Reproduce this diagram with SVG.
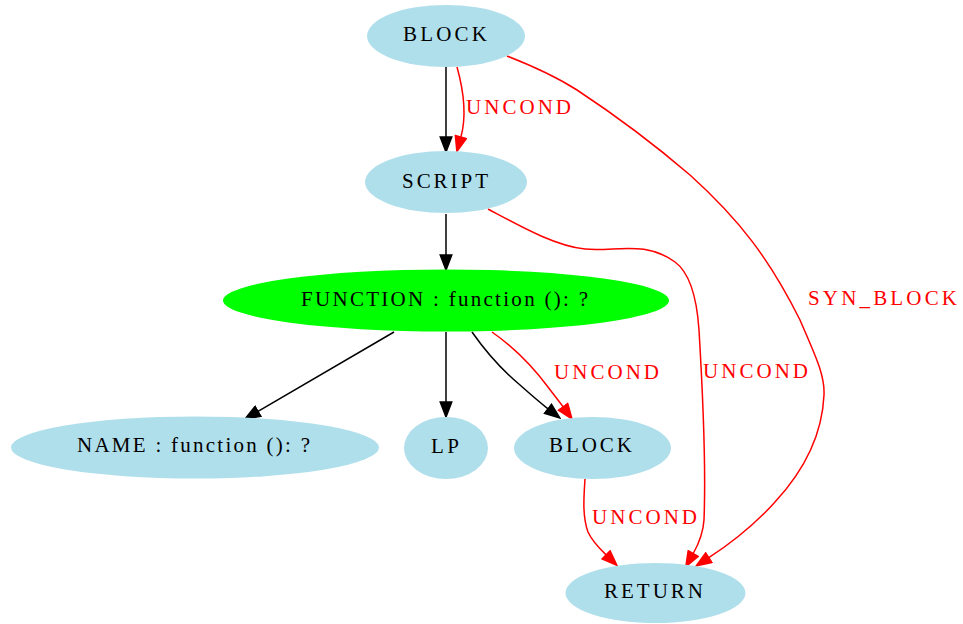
<svg xmlns="http://www.w3.org/2000/svg" width="963" height="624" viewBox="0 0 963 624">
<style>
.n{fill:#b0dfec;stroke:none}
.g{fill:#00ff00;stroke:none}
.t{font-family:"Liberation Serif","Times New Roman",serif;font-size:21px;fill:#000}
.l{font-family:"Liberation Serif","Times New Roman",serif;font-size:21px;fill:#ff0000}
.e{fill:none;stroke:#000;stroke-width:1.5}
.r{fill:none;stroke:#ff0000;stroke-width:1.5}
</style>
<defs>
<marker id="ab" viewBox="-1 -1 17 13.5" markerWidth="17" markerHeight="13.5" refX="0" refY="5.75" orient="auto" markerUnits="userSpaceOnUse"><path d="M0,0 L15,5.75 L0,11.5 z" fill="#000" stroke="#000" stroke-width="1.5"/></marker>
<marker id="ar" viewBox="-1 -1 17 13.5" markerWidth="17" markerHeight="13.5" refX="0" refY="5.75" orient="auto" markerUnits="userSpaceOnUse"><path d="M0,0 L15,5.75 L0,11.5 z" fill="#ff0000" stroke="#ff0000" stroke-width="1.5"/></marker>
</defs>
<rect width="963" height="624" fill="#fff"/>
<g id="edges">
<path class="e" d="M446,67 L446,137" marker-end="url(#ab)"/>
<path class="r" d="M457,67 C464,92 467,115 460.9,137" marker-end="url(#ar)"/>
<text class="l" x="466" y="114" textLength="105" lengthAdjust="spacing">UNCOND</text>
<path class="r" d="M507,56 C530,65 555,76 577,90 C615,115 655,145 690,175 C740,220 770,260 800,320 C815,355 825,375 824,395 C822,440 800,475 775,502 C757,522 733,542 708.8,557.7" marker-end="url(#ar)"/>
<text class="l" x="808" y="305" textLength="149" lengthAdjust="spacing">SYN_BLOCK</text>
<path class="e" d="M446,214 L446,255" marker-end="url(#ab)"/>
<path class="r" d="M488,209 C520,226 555,246 585,249 C615,252 645,240 675,262 C690,273 697,300 699,330 C702,380 706,470 704,520 C703,535 698,545 693.2,553.5" marker-end="url(#ar)"/>
<text class="l" x="703" y="378" textLength="105" lengthAdjust="spacing">UNCOND</text>
<path class="e" d="M394,332 L258,411.4" marker-end="url(#ab)"/>
<path class="e" d="M446,332 L446,402" marker-end="url(#ab)"/>
<path class="e" d="M472,332 C486,352 502,370 520,385 C529,393 538,401 548,408.8" marker-end="url(#ab)"/>
<path class="r" d="M492,332 C512,346 533,367 548,387 C554,395 558,400 563.1,406.9" marker-end="url(#ar)"/>
<text class="l" x="554" y="379" textLength="105" lengthAdjust="spacing">UNCOND</text>
<path class="r" d="M585,479 C584,496 582,515 588,532 C592,541 599,548 606.1,554.9" marker-end="url(#ar)"/>
<text class="l" x="592" y="524" textLength="105" lengthAdjust="spacing">UNCOND</text>
</g>
<g id="block1"><ellipse class="n" cx="446" cy="36" rx="79" ry="31"/><text class="t" x="403" y="41" textLength="84" lengthAdjust="spacing">BLOCK</text></g>
<g id="script"><ellipse class="n" cx="446" cy="182" rx="81" ry="31"/><text class="t" x="402" y="188" textLength="86" lengthAdjust="spacing">SCRIPT</text></g>
<g id="function"><ellipse class="g" cx="446" cy="300.5" rx="223" ry="31"/><text class="t" x="301" y="306" textLength="287" lengthAdjust="spacing">FUNCTION : function (): ?</text></g>
<g id="name"><ellipse class="n" cx="195" cy="447.5" rx="184" ry="31"/><text class="t" x="77" y="452" textLength="233" lengthAdjust="spacing">NAME : function (): ?</text></g>
<g id="lp"><ellipse class="n" cx="446" cy="448" rx="42" ry="31"/><text class="t" x="431" y="453" textLength="28" lengthAdjust="spacing">LP</text></g>
<g id="block2"><ellipse class="n" cx="592.5" cy="448" rx="78.5" ry="31"/><text class="t" x="549" y="452" textLength="83" lengthAdjust="spacing">BLOCK</text></g>
<g id="return"><ellipse class="n" cx="655.5" cy="593" rx="90" ry="30"/><text class="t" x="604" y="598" textLength="99" lengthAdjust="spacing">RETURN</text></g>
</svg>
